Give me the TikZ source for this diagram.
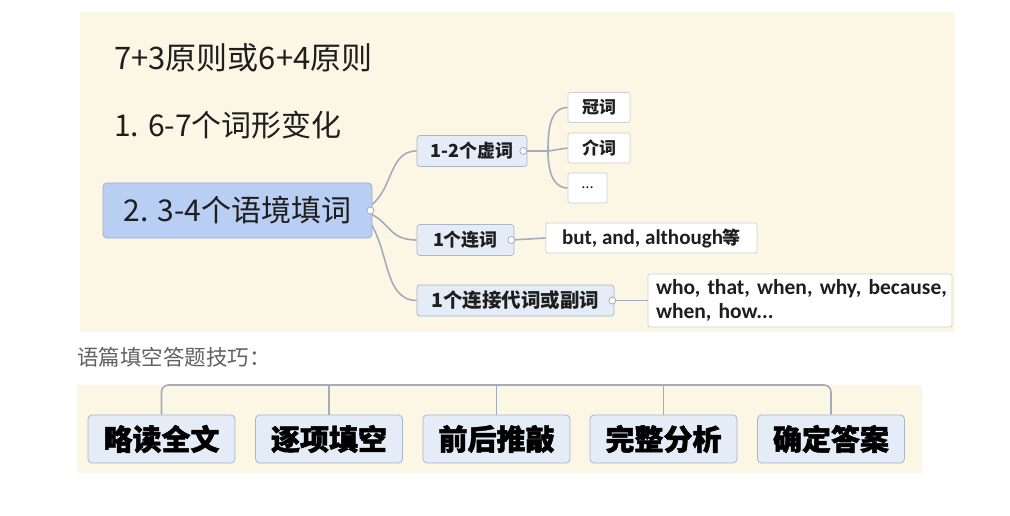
\documentclass[tikz,border=0pt]{standalone}
\usepackage{fontspec}
\setmainfont{Noto Sans CJK SC}
\newfontfamily\latinb{Carlito}
\newfontfamily\heavycjk{Noto Sans CJK SC}[BoldFeatures={FakeBold=1.6}]
\definecolor{cream}{HTML}{FCF7E5}
\definecolor{mainfill}{HTML}{B9CEF3}
\definecolor{mainline}{HTML}{96ADDA}
\definecolor{subfill}{HTML}{E4ECF8}
\definecolor{subline}{HTML}{A8B5CB}
\definecolor{leafline}{HTML}{CFCFCF}
\definecolor{conncol}{HTML}{A3ABBF}
\definecolor{txt}{HTML}{1E1E1E}
\pgfdeclarelayer{paper}
\pgfdeclarelayer{wires}
\pgfsetlayers{paper,wires,main}
\begin{document}
\begin{tikzpicture}[x=1pt,y=-1pt,
  mainbox/.style={draw=mainline,fill=mainfill,rounded corners=4pt,line width=0.8pt,
     minimum width=269pt,minimum height=55pt,inner sep=0pt,font=\fontsize{30}{33}\selectfont,text=txt},
  subbox/.style={draw=subline,fill=subfill,rounded corners=3pt,line width=0.7pt,
     minimum height=31pt,inner sep=0pt,font=\fontsize{18}{21}\selectfont\bfseries,text=txt},
  leafbox/.style={draw=leafline,fill=white,rounded corners=2pt,line width=0.7pt,
     minimum height=30pt,inner sep=0pt,font=\fontsize{17}{20}\selectfont\bfseries,text=txt},
  stepbox/.style={draw=subline,fill=subfill,rounded corners=4pt,line width=0.8pt,
     minimum width=147pt,minimum height=48pt,inner sep=0pt,font=\heavycjk\fontsize{29}{32}\selectfont\bfseries,text=black},
  wire/.style={draw=conncol,line width=1.6pt},
  knob/.style={circle,draw=conncol,fill=white,line width=0.8pt,inner sep=0pt,minimum size=7pt},
  plain/.style={inner sep=0pt,anchor=west,text=txt}
]
\useasboundingbox (0,0) rectangle (1010,516);
\begin{pgfonlayer}{paper}
\fill[cream] (80,12) rectangle (955,332);
\fill[cream] (77,385) rectangle (922,473);
\end{pgfonlayer}

% free texts
\node[plain,font=\fontsize{31}{34}\selectfont] (title) at (114,58) {7+3原则或6+4原则};
\node[plain,font=\fontsize{30}{33}\selectfont] (one) at (114,125) {1. 6-7个词形变化};
\node[plain,font=\fontsize{21.5}{24}\selectfont,text=black!62] (tips) at (77,357) {语篇填空答题技巧：};

% mind map nodes
\node[mainbox] (main) at (237.5,210.5) {2. 3-4个语境填词};
\node[subbox,minimum width=110pt] (c1) at (472,151) {1-2个虚词};
\node[subbox,minimum width=97pt] (c2) at (465.5,240) {1个连词};
\node[subbox,minimum width=197pt,font=\fontsize{19.5}{22}\selectfont\bfseries] (c3) at (515.5,300.5) {1个连接代词或副词\hspace{6pt}};
\node[leafbox,minimum width=62pt] (g1) at (599,107.5) {冠词};
\node[leafbox,minimum width=62pt] (g2) at (599,148) {介词};
\node[leafbox,minimum width=39pt,font=\fontsize{15}{18}\selectfont] (g3) at (587.5,188) {...};
\node[leafbox,minimum width=211pt,font=\latinb\fontsize{21}{24}\selectfont\bfseries] (l2) at (651.5,238) {but, and, although{\fontsize{18}{20}\rmfamily\bfseries 等}};
\node[leafbox,minimum width=304pt,minimum height=53pt,align=left,text width=288pt,
      font=\latinb\fontsize{21.5}{24}\selectfont\bfseries] (l3) at (800,300.5)
      {\mbox{who, that, when, why, because,}\\ \mbox{when, how...}};

% knobs
\node[knob] (k0) at ([xshift=-2pt]main.east) {};
\node[knob] (k1) at ([xshift=-4pt]c1.east) {};
\node[knob] (k2) at ([xshift=-3pt]c2.east) {};
\node[knob] (k3) at ([xshift=-2pt]c3.east) {};

% step boxes
\node[stepbox] (b1) at (161.5,439) {略读全文};
\node[stepbox] (b2) at (329,439) {逐项填空};
\node[stepbox] (b3) at (496.5,439) {前后推敲};
\node[stepbox] (b4) at (663.5,439) {完整分析};
\node[stepbox] (b5) at (831,439) {确定答案};
\coordinate (bar) at (0,385);
\coordinate (hub1) at (548,151);

\begin{pgfonlayer}{wires}
\draw[wire] ([xshift=-12pt]main.east) .. controls (395,200) and (385,151) .. (c1.west);
\draw[wire] ([xshift=-12pt]main.east) .. controls (392,218) and (385,240) .. (c2.west);
\draw[wire] ([xshift=-12pt]main.east) .. controls (392,240) and (380,300) .. (c3.west);
\draw[wire] (k1) -- (hub1);
\draw[wire] (hub1) -- (g2.west);
\draw[wire] (hub1) to[out=90,in=180] (g1.west);
\draw[wire] (hub1) to[out=-90,in=180] (g3.west);
\draw[wire] (k2) -- (l2.west);
\draw[wire] (k3) -- (l3.west);
\draw[wire,rounded corners=7pt] (b1.north) -- (b1.north |- bar) -- (b5.north |- bar) -- (b5.north);
\draw[wire] (b2.north) -- (b2.north |- bar);
\draw[wire] (b3.north) -- (b3.north |- bar);
\draw[wire] (b4.north) -- (b4.north |- bar);
\end{pgfonlayer}
\end{tikzpicture}
\end{document}
